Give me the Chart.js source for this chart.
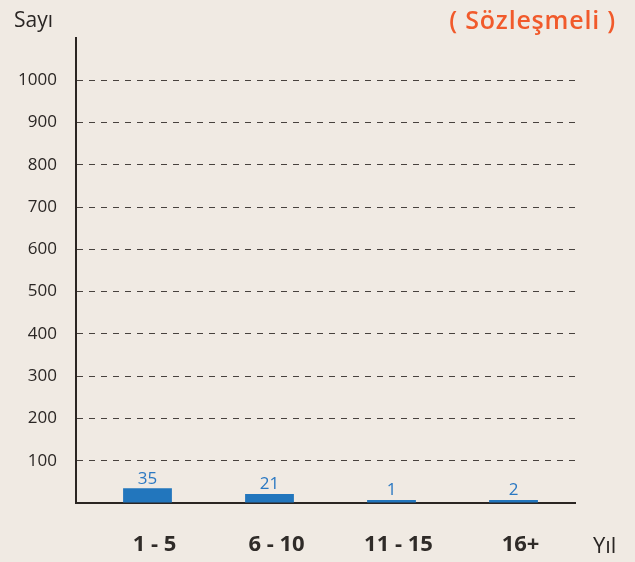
<!DOCTYPE html>
<html>
<head>
<meta charset="utf-8">
<script src="https://cdn.jsdelivr.net/npm/chart.js@4.4.0/dist/chart.umd.min.js"></script>
<style>
  html, body { margin: 0; padding: 0; background: #f0eae3; }
  #wrap { position: relative; width: 635px; height: 562px; }
  canvas { position: absolute; left: 0; top: 0; }
  .lbl { position: absolute; font-family: 'Open Sans', sans-serif; color: #2a2624; white-space: nowrap; line-height: 1; }
</style>
</head>
<body>
<div id="wrap">
  <canvas id="myChart" width="635" height="562"></canvas>
  <div class="lbl" style="left:14px; top:9px; font-size:21px;">Sayı</div>
  <div class="lbl" style="left:593px; top:533px; font-size:22px;">Yıl</div>
  <div class="lbl" style="right:19px; top:7px; font-size:25px; font-weight:600; letter-spacing:0.8px; color:#f15a2b;">( Sözleşmeli )</div>
</div>
<script>
var categories = ['1 - 5', '6 - 10', '11 - 15', '16+'];
var counts = [35, 21, 1, 2];
var yTicks = [100, 200, 300, 400, 500, 600, 700, 800, 900, 1000];

var points = categories.map(function(c, i){
    return {x: i, y: counts[i]};
});

// numbers above the bars
var valueLabels = {
    id: 'valueLabels',
    afterDatasetsDraw: function(chart){
        var ctx = chart.ctx;
        var meta = chart.getDatasetMeta(0);
        ctx.save();
        ctx.font = '17px "Open Sans", sans-serif';
        ctx.fillStyle = '#2a78c2';
        ctx.textAlign = 'center';
        ctx.textBaseline = 'bottom';
        meta.data.forEach(function(bar, i){
            ctx.fillText(counts[i], bar.x, bar.y - 1);
        });
        ctx.restore();
    }
};

const ctx = document.getElementById('myChart').getContext('2d');
const myChart = new Chart(ctx, {
    type: 'bar',
    data: {
        datasets: [{
            data: points,
            backgroundColor: '#2276bd',
            borderWidth: 0,
            barPercentage: 1,
            categoryPercentage: 0.4,
            minBarLength: 3
        }]
    },
    options: {
        responsive: false,
        animation: false,
        layout: { padding: { top: 38, right: 60, left: 0, bottom: 0 } },
        scales: {
            x: {
                type: 'linear',
                offset: false,
                min: -0.586,
                max: 3.504,
                afterFit: function(scale){ scale.height = 59; },
                grid: { display: false, drawTicks: false },
                border: { display: true, color: '#2b2522', width: 2 },
                ticks: {
                    stepSize: 1,
                    includeBounds: false,
                    autoSkip: false,
                    maxRotation: 0,
                    padding: 29,
                    labelOffset: 7,
                    color: '#2f2b28',
                    font: { family: 'Open Sans', size: 22, weight: 'bold' },
                    callback: function(v){
                        return Number.isInteger(v) && categories[v] !== undefined ? categories[v] : '';
                    }
                }
            },
            y: {
                min: 0,
                max: 1100,
                afterFit: function(scale){ scale.width = 76; },
                afterBuildTicks: function(scale){
                    scale.ticks = [0].concat(yTicks, [1100]).map(function(v){ return {value: v}; });
                },
                grid: {
                    drawTicks: false,
                    color: function(c){
                        var v = c.tick.value;
                        return (v === 0 || v === 1100) ? 'rgba(0,0,0,0)' : '#48423e';
                    },
                    lineWidth: 1
                },
                border: { display: true, color: '#2b2522', width: 2, dash: [6, 6] },
                ticks: {
                    padding: 19,
                    color: '#2a2624',
                    font: { family: 'Open Sans', size: 17 },
                    callback: function(v){
                        return yTicks.indexOf(v) >= 0 ? v : '';
                    }
                }
            }
        },
        plugins: {
            legend: { display: false },
            tooltip: { enabled: false }
        }
    },
    plugins: [valueLabels]
});
</script>
</body>
</html>
